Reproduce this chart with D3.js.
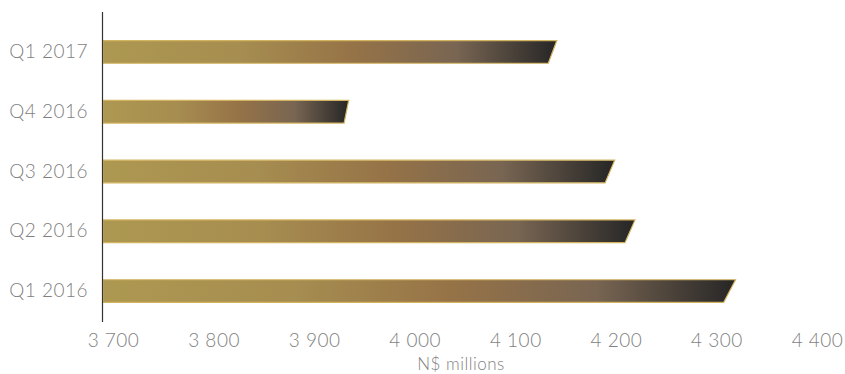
<!DOCTYPE html>
<html lang="en">
<head>
<meta charset="UTF-8">
<title>Quarterly values</title>
<script src="https://d3js.org/d3.v7.min.js"></script>
<style>
 body {margin: 0; padding: 0; background: #fff;}
 svg {display: block;}
 .lbl {font-family: Lato, sans-serif; font-weight: 300; fill: #7f7f7f; letter-spacing: 0.5px;}
</style>
</head>
<body>
<svg id="chart" width="845" height="374"></svg>
<script>
// data
const quarters = ['Q1 2017', 'Q4 2016', 'Q3 2016', 'Q2 2016', 'Q1 2016'];
const values = [4148, 3943, 4205, 4225, 4324];
const xTicks = [3700, 3800, 3900, 4000, 4100, 4200, 4300, 4400];
const xTitle = 'N$ millions';

const svg = d3.select('#chart');
const x = d3.scaleLinear().domain([3700, 4400]).range([102, 806]);
const y = d3.scaleBand().domain(quarters).range([22, 321]).paddingInner(0.62).paddingOuter(0.31);

// bar gradient: gold -> brown -> charcoal
const grad = svg.append('defs').append('linearGradient')
  .attr('id', 'barGrad').attr('x1', 0).attr('x2', 1).attr('y1', 0).attr('y2', 0);
[[0, '#ad9851'], [0.3, '#a68d50'], [0.55, '#967347'], [0.78, '#786552'], [1, '#262626']]
  .forEach(([o, c]) => grad.append('stop').attr('offset', o).attr('stop-color', c));

const bars = svg.append('g');
quarters.forEach((q, i) => {
  const x0 = x(3700) + 1;
  const xe = x(values[i]);
  const slant = (xe - x0) * 0.019;
  const top = y(q), h = y.bandwidth();
  bars.append('path')
    .attr('d', `M${x0},${top}L${xe + slant / 2},${top}L${xe - slant / 2},${top + h}L${x0},${top + h}Z`)
    .attr('fill', 'url(#barGrad)')
    .attr('stroke', '#d2b460')
    .attr('stroke-width', 1.2);
});

// vertical axis line
svg.append('line')
  .attr('x1', 102.5).attr('x2', 102.5).attr('y1', 12).attr('y2', 322)
  .attr('stroke', '#333').attr('stroke-width', 1.2);

// category labels
svg.append('g').selectAll('text').data(quarters).enter().append('text')
  .attr('class', 'lbl')
  .attr('x', 88)
  .attr('y', d => y(d) + y.bandwidth() / 2)
  .attr('dy', '0.32em')
  .attr('text-anchor', 'end')
  .attr('font-size', 19)
  .text(d => d);

// x axis labels
const xAxis = svg.append('g')
  .attr('transform', 'translate(11,326)')
  .call(d3.axisBottom(x).tickValues(xTicks).tickSize(0).tickPadding(8)
    .tickFormat(d => d3.format(',')(d).replace(',', ' ')));
xAxis.select('.domain').remove();
xAxis.selectAll('text').attr('class', 'lbl').attr('font-size', 19);

svg.append('text')
  .attr('class', 'lbl')
  .attr('x', 461).attr('y', 370)
  .attr('text-anchor', 'middle')
  .attr('font-size', 17)
  .text(xTitle);
</script>
</body>
</html>
